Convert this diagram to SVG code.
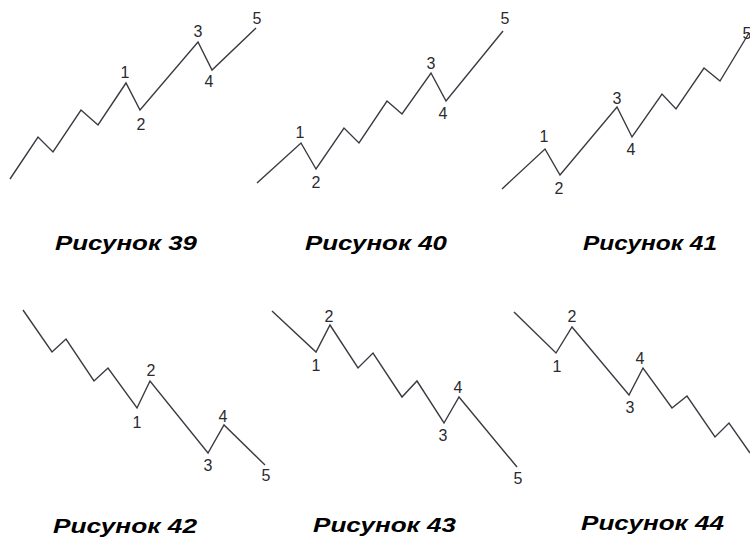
<svg xmlns="http://www.w3.org/2000/svg" width="750" height="545" viewBox="0 0 750 545">
  <style>
    .wave { fill: none; stroke: #3a3a42; stroke-width: 1.4; stroke-linejoin: miter; }
    .num { font-family: "Liberation Sans", Arial, sans-serif; font-size: 16px; fill: #2a2a30; text-anchor: middle; }
    .cap { font-family: "Liberation Sans", Arial, sans-serif; font-size: 21px; font-weight: bold; font-style: italic; fill: #000; }
  </style>
  <rect width="750" height="545" fill="#fff"/>

  <!-- wave polylines -->
  <g id="connectors">
    <polyline class="wave" points="10,179 38,137 53,152 81,110 98,125 126,83 140,110 198,42 212,70 256,28"/>
    <polyline class="wave" points="257,183 301,143 316,169 344,128 359,143 387,101 402,114 431,73 446,101 503,31"/>
    <polyline class="wave" points="502,189 545,149 560,175 617,107 632,137 662,94 676,109 704,68 720,81 749,33"/>
    <polyline class="wave" points="23,310 52,352 66,339 94,381 108,368 137,408 150,381 208,453 224,425 265,465"/>
    <polyline class="wave" points="272,311 316,352 330,325 358,368 373,353 402,397 417,381 444,423 459,397 517,467"/>
    <polyline class="wave" points="514,312 556,353 572,327 629,395 643,368 672,408 687,396 715,437 729,423 750,453"/>
  </g>

  <!-- Рисунок 39 -->
  <g id="fig39">
    <text class="num" x="125" y="78">1</text>
    <text class="num" x="141" y="130">2</text>
    <text class="num" x="198" y="37">3</text>
    <text class="num" x="209" y="87">4</text>
    <text class="num" x="257" y="24">5</text>
    <text class="cap" x="55" y="250" textLength="142" lengthAdjust="spacingAndGlyphs">Рисунок 39</text>
  </g>

  <!-- Рисунок 40 -->
  <g id="fig40">
    <text class="num" x="300" y="138">1</text>
    <text class="num" x="316" y="188">2</text>
    <text class="num" x="431" y="69">3</text>
    <text class="num" x="443" y="119">4</text>
    <text class="num" x="505" y="24">5</text>
    <text class="cap" x="305" y="250" textLength="142" lengthAdjust="spacingAndGlyphs">Рисунок 40</text>
  </g>

  <!-- Рисунок 41 -->
  <g id="fig41">
    <text class="num" x="544" y="142">1</text>
    <text class="num" x="559" y="194">2</text>
    <text class="num" x="617" y="104">3</text>
    <text class="num" x="631" y="155">4</text>
    <text class="num" x="747" y="39">5</text>
    <text class="cap" x="583" y="250" textLength="134" lengthAdjust="spacingAndGlyphs">Рисунок 41</text>
  </g>

  <!-- Рисунок 42 -->
  <g id="fig42">
    <text class="num" x="137" y="428">1</text>
    <text class="num" x="151" y="376">2</text>
    <text class="num" x="208" y="471">3</text>
    <text class="num" x="223" y="422">4</text>
    <text class="num" x="266" y="481">5</text>
    <text class="cap" x="53" y="533" textLength="144" lengthAdjust="spacingAndGlyphs">Рисунок 42</text>
  </g>

  <!-- Рисунок 43 -->
  <g id="fig43">
    <text class="num" x="316" y="371">1</text>
    <text class="num" x="329" y="322">2</text>
    <text class="num" x="443" y="441">3</text>
    <text class="num" x="458" y="393">4</text>
    <text class="num" x="518" y="484">5</text>
    <text class="cap" x="313" y="532" textLength="143" lengthAdjust="spacingAndGlyphs">Рисунок 43</text>
  </g>

  <!-- Рисунок 44 -->
  <g id="fig44">
    <text class="num" x="557" y="372">1</text>
    <text class="num" x="572" y="322">2</text>
    <text class="num" x="630" y="413">3</text>
    <text class="num" x="640" y="364">4</text>
    <text class="cap" x="581" y="530" textLength="143" lengthAdjust="spacingAndGlyphs">Рисунок 44</text>
  </g>
</svg>
